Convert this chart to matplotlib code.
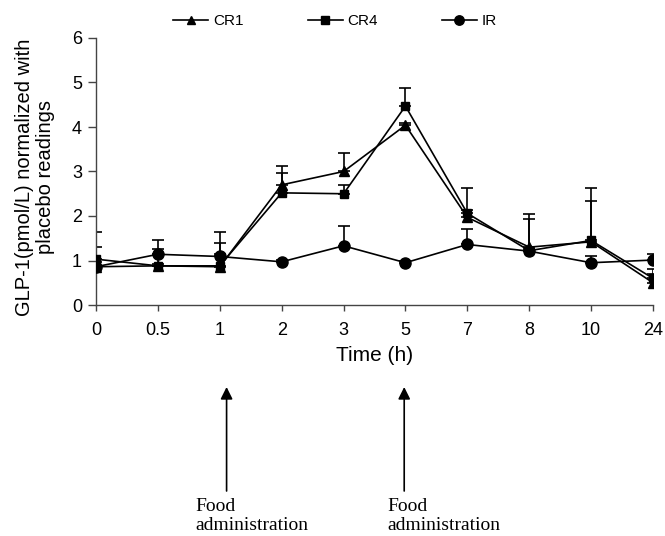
import matplotlib
matplotlib.use("Agg")
import matplotlib.pyplot as plt
from matplotlib.patches import FancyArrowPatch
import numpy as np

plt.rcParams['font.family'] = ['Liberation Sans', 'DejaVu Sans']

time_labels = ["0", "0.5", "1", "2", "3", "5", "7", "8", "10", "24"]

cr1 = [0.86, 0.88, 0.86, 2.70, 3.00, 4.04, 1.97, 1.30, 1.42, 0.50]
cr4 = [1.03, 0.88, 0.88, 2.52, 2.50, 4.47, 2.06, 1.22, 1.45, 0.60]
ir = [0.86, 1.14, 1.09, 0.97, 1.33, 0.95, 1.36, 1.21, 0.95, 1.01]

cr1_err = [0.44, 0.38, 0.53, 0.42, 0.41, 0.05, 0.16, 0.74, 0.92, 0.32]
cr4_err = [0.60, 0.05, 0.75, 0.45, 0.20, 0.41, 0.58, 0.71, 1.19, 0.10]
ir_err = [0.10, 0.31, 0.05, 0.05, 0.45, 0.05, 0.34, 0.05, 0.16, 0.14]

food_times = ["1", "5"]
food_label = "Food\nadministration"

W, H = 665, 536
fig = plt.figure(figsize=(W / 100, H / 100), dpi=100)
ax = fig.add_axes([96 / W, 1 - 305 / H, 557 / W, 267 / H])

x = np.arange(len(time_labels))
series = [("CR1", cr1, cr1_err, "^", 7), ("CR4", cr4, cr4_err, "s", 6), ("IR", ir, ir_err, "o", 8)]
handles = []
for name, vals, err, m, ms in series:
    ax.errorbar(x, vals, yerr=[np.zeros(len(err)), err], fmt="none", ecolor="black",
                elinewidth=1.2, capsize=4, capthick=1.2, zorder=2)
    h, = ax.plot(x, vals, color="black", marker=m, markersize=ms, linewidth=1.2,
                 label=name, zorder=3)
    handles.append(h)

ax.set_xlim(0, len(time_labels) - 1)
ax.set_ylim(0, 6)
ax.set_xticks(x)
ax.set_xticklabels(time_labels)
ax.set_yticks(range(0, 7))
ax.spines['top'].set_visible(False)
ax.spines['right'].set_visible(False)
for s in ['left', 'bottom']:
    ax.spines[s].set_linewidth(1.0)
    ax.spines[s].set_color('#444444')
ax.tick_params(axis='both', labelsize=13, width=1.0, color='#444444')
ax.tick_params(axis='y', length=6, pad=4)
ax.tick_params(axis='x', length=4, pad=8)
ax.set_xlabel("Time (h)", fontsize=15, labelpad=5)
ax.set_ylabel("GLP-1(pmol/L) normalized with\nplacebo readings", fontsize=14.5,
              linespacing=1.15)
ax.yaxis.set_label_coords(-0.074, 0.48)

fig.legend(handles=handles, loc="center", bbox_to_anchor=(335 / W, 1 - 21 / H), ncol=3,
           frameon=False, fontsize=11, handlelength=2.3, columnspacing=4.2,
           handletextpad=0.3, markerscale=0.85)

# Food administration arrows (small offset from the tick, text left edge in pixels)
arrow_offset = [0.11, -0.02]
text_left_px = [195, 387]
for t, off, tl in zip(food_times, arrow_offset, text_left_px):
    xi = time_labels.index(t) + off
    xf = ax.transData.transform((xi, 0))[0] / W
    fig.add_artist(FancyArrowPatch(
        (xf, 1 - 491 / H), (xf, 1 - 387 / H), transform=fig.transFigure,
        arrowstyle='-|>', mutation_scale=18, color='black', linewidth=1.2,
        shrinkA=0, shrinkB=0))
    fig.text(tl / W, 1 - 498 / H, food_label, family=['Liberation Serif'],
             fontsize=14, va='top', ha='left', linespacing=1.15)

fig.savefig("out.png", dpi=100)
